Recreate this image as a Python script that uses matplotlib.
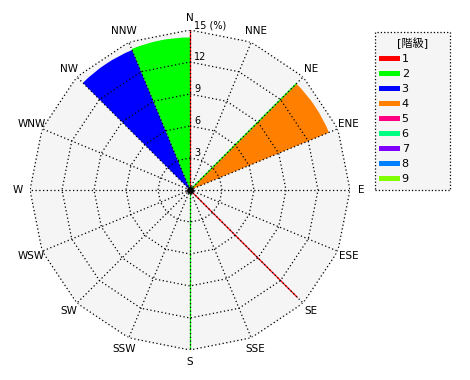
import numpy as np
import matplotlib
matplotlib.use('Agg')
import matplotlib.pyplot as plt
from matplotlib.lines import Line2D

plt.rcParams['font.family'] = ['DejaVu Sans', 'Noto Sans CJK JP']

# 16 directions, clockwise from north
direcciones = ['N', 'NNE', 'NE', 'ENE', 'E', 'ESE', 'SE', 'SSE',
               'S', 'SSW', 'SW', 'WSW', 'W', 'WNW', 'NW', 'NNW']
anillos = [3, 6, 9, 12, 15]

# class colours (階級 1..9)
clases = ['1', '2', '3', '4', '5', '6', '7', '8', '9']
colores = ['#ff0000', '#00ff00', '#0000ff', '#ff8000', '#ff0080',
           '#00ff80', '#8000ff', '#0080ff', '#80ff00']

# filled sectors: from direction -> to direction, value (%), class
sector_desde = ['NNW', 'NW', 'NE']
sector_hasta = ['N', 'NNW', 'ENE']
sector_valor = [14.3, 14.2, 14.1]
sector_clase = [2, 3, 4]

# thin rays: direction, value (%), class
linea_dir = ['N', 'S', 'NE', 'SE']
linea_valor = [15.0, 15.0, 14.1, 14.2]
linea_clase = [1, 2, 2, 1]

R_MAX = 15


def ang(d):
    return np.radians(direcciones.index(d) * 22.5)


fig = plt.figure(figsize=(4.7, 3.8), dpi=100)
ax = fig.add_axes([30 / 470, 30 / 380, 320 / 470, 320 / 380], projection='polar')
ax.set_theta_zero_location('N')
ax.set_theta_direction(-1)
ax.set_ylim(0, R_MAX)
ax.set_axis_off()

theta = np.radians(np.arange(17) * 22.5)

# background polygon
ax.fill(theta, np.full(17, R_MAX), color='#f5f5f5', zorder=0)

# sectors
for d0, d1, v, c in zip(sector_desde, sector_hasta, sector_valor, sector_clase):
    a0, a1 = ang(d0), ang(d1)
    if a1 < a0:
        a1 += 2 * np.pi
    ax.bar((a0 + a1) / 2, v, width=a1 - a0, color=colores[c - 1],
           edgecolor='none', zorder=1)

# thin rays (under the dotted grid)
for d, v, c in zip(linea_dir, linea_valor, linea_clase):
    ax.plot([ang(d), ang(d)], [0, v], color=colores[c - 1], lw=0.9, zorder=1.5)

# polygon rings and spokes
for r in anillos:
    ax.plot(theta, np.full(17, r), color='black', ls=(0, (1, 2)), lw=0.9, zorder=2)
for t in theta[:-1]:
    ax.plot([t, t], [0, R_MAX], color='black', ls=(0, (1, 2)), lw=0.9, zorder=2)

ax.plot([0], [0], 'o', color='black', ms=4, zorder=4)

# ring labels
for r in anillos:
    txt = '15 (%)' if r == R_MAX else str(r)
    ax.annotate(txt, xy=(0, r), xytext=(3, 0), textcoords='offset points',
                ha='left', va='bottom', fontsize=7, annotation_clip=False)

# direction labels
for i, d in enumerate(direcciones):
    ax.text(np.radians(i * 22.5), 16.1, d, ha='center', va='center',
            fontsize=7.5, clip_on=False)

# legend
handles = [Line2D([], [], color=col, lw=3.6) for col in colores]
leg = fig.legend(handles, clases, title='[階級]', loc='upper left',
                 bbox_to_anchor=(375 / 470, 1 - 36 / 380, 75 / 470, 0.01),
                 mode='expand', fontsize=8, title_fontsize=8,
                 handlelength=1.5, handletextpad=0.4, labelspacing=0.45,
                 borderpad=0.5, borderaxespad=0, fancybox=False,
                 framealpha=1)
leg.get_frame().set_facecolor('#f5f5f5')
leg.get_frame().set_edgecolor('black')
leg.get_frame().set_linestyle(':')
leg.get_frame().set_linewidth(0.9)

fig.savefig('out.png', dpi=100)
